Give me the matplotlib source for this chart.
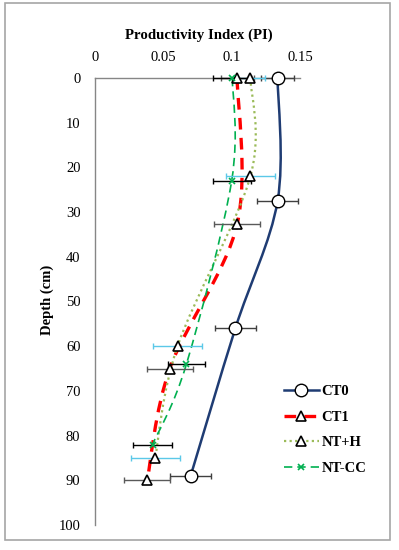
import matplotlib
matplotlib.use("Agg")
import matplotlib.pyplot as plt
from matplotlib.path import Path
from matplotlib.patches import PathPatch, Rectangle
from matplotlib.lines import Line2D
import numpy as np

plt.rcParams['font.family'] = ['Liberation Serif', 'DejaVu Serif']

# ---- data ----
series_names = ["CT0", "CT1", "NT+H", "NT-CC"]

ct0_depth = [0, 27.5, 56, 89]
ct0_pi = [0.1336, 0.1336, 0.1027, 0.070]
ct0_err = [0.012, 0.015, 0.015, 0.015]

ct1_depth = [0, 32.7, 65, 90]
ct1_pi = [0.104, 0.104, 0.0547, 0.0382]
ct1_err = [0.012, 0.017, 0.017, 0.017]

nth_depth = [0, 22, 60, 85]
nth_pi = [0.1137, 0.1137, 0.0604, 0.044]
nth_err = [0.0105, 0.018, 0.018, 0.018]

ntcc_depth = [0, 23, 64, 82]
ntcc_pi = [0.1005, 0.100, 0.0669, 0.0421]
ntcc_err = [0.014, 0.014, 0.0134, 0.0142]

x_ticks = [0, 0.05, 0.1, 0.15]
x_tick_labels = ["0", "0.05", "0.1", "0.15"]
y_ticks = list(range(0, 101, 10))


def smooth_path(xs, ys):
    pts = np.column_stack([xs, ys]).astype(float)
    n = len(pts)
    verts = [pts[0]]
    codes = [Path.MOVETO]
    for i in range(n - 1):
        p0 = pts[i - 1] if i > 0 else pts[i]
        p1 = pts[i]
        p2 = pts[i + 1]
        p3 = pts[i + 2] if i + 2 < n else pts[i + 1]
        c1 = p1 + (p2 - p0) / 6.0
        c2 = p2 - (p3 - p1) / 6.0
        verts += [c1, c2, p2]
        codes += [Path.CURVE4] * 3
    return Path(verts, codes)


W, H = 399, 550
fig = plt.figure(figsize=(W / 100, H / 100), dpi=100)
fig.patch.set_facecolor('white')
fig.add_artist(Rectangle((5 / W, 1 - 540 / H), (390 - 5) / W, (540 - 3) / H,
                         transform=fig.transFigure, fill=False,
                         edgecolor='#a6a6a6', linewidth=1.2))

ax = fig.add_axes([95 / W, 1 - 525 / H, (300 - 95) / W, (525 - 78) / H])
ax.set_xlim(0, 0.15)
ax.set_ylim(100, 0)

specs = [
    (ct0_pi, ct0_depth, ct0_err, dict(color='#1f3c73', lw=1.8, ls='-'), '#404040',
     dict(marker='o', ms=9, mfc='white', mec='black', mew=1.0)),
    (ct1_pi, ct1_depth, ct1_err, dict(color='#ff0000', lw=2.4, ls=(0, (3.5, 2.5))), '#595959',
     dict(marker='^', ms=7.5, mfc='white', mec='black', mew=1.2)),
    (nth_pi, nth_depth, nth_err, dict(color='#9bbb59', lw=1.6, ls=(0, (1, 1.5))), '#5bc8e8',
     dict(marker='^', ms=7.5, mfc='white', mec='black', mew=1.2)),
    (ntcc_pi, ntcc_depth, ntcc_err, dict(color='#00b050', lw=1.2, ls=(0, (5, 3))), '#000000',
     dict(marker='x', ms=5, mec='#00b050', mew=1.2)),
]

for xs, ys, err, lstyle, ecol, mstyle in specs:
    patch = PathPatch(smooth_path(xs, ys), facecolor='none', edgecolor=lstyle['color'],
                      linewidth=lstyle['lw'], linestyle=lstyle['ls'], zorder=2,
                      capstyle='butt')
    ax.add_patch(patch)

for xs, ys, err, lstyle, ecol, mstyle in specs:
    ax.errorbar(xs, ys, xerr=err, fmt='none', ecolor=ecol, elinewidth=1.0,
                capsize=2.5, capthick=1.0, zorder=3, clip_on=False)

for xs, ys, err, lstyle, ecol, mstyle in specs:
    ax.plot(xs, ys, ls='none', zorder=4, clip_on=False, **mstyle)

# axes styling
ax.xaxis.tick_top()
ax.set_xticks(x_ticks)
ax.set_xticklabels(x_tick_labels)
ax.set_yticks(y_ticks)
for s in ['right', 'bottom']:
    ax.spines[s].set_visible(False)
for s in ['top', 'left']:
    ax.spines[s].set_color('#868686')
    ax.spines[s].set_linewidth(1.0)
ax.tick_params(axis='both', length=0, labelsize=10.5, colors='black')
ax.tick_params(axis='x', pad=10)
ax.tick_params(axis='y', pad=10.5)

fig.text(199 / W, 1 - 35 / H, "Productivity Index (PI)", ha='center', va='center',
         fontsize=10.7, fontweight='bold')
fig.text(47 / W, 1 - 300 / H, "Depth (cm)", ha='center', va='center',
         fontsize=10.5, fontweight='bold', rotation=90)

handles = []
for (xs, ys, err, lstyle, ecol, mstyle), name in zip(specs, series_names):
    h = Line2D([], [], color=lstyle['color'], lw=lstyle['lw'], ls=lstyle['ls'], **mstyle)
    handles.append(h)
leg = fig.legend(handles, series_names, loc='upper left',
                 bbox_to_anchor=(278 / W, 1 - 379 / H), frameon=False,
                 prop={'weight': 'bold', 'size': 10.5}, handlelength=2.4,
                 handletextpad=0.2, labelspacing=0.85, borderaxespad=0)

fig.savefig("out.png", dpi=100, facecolor='white')
